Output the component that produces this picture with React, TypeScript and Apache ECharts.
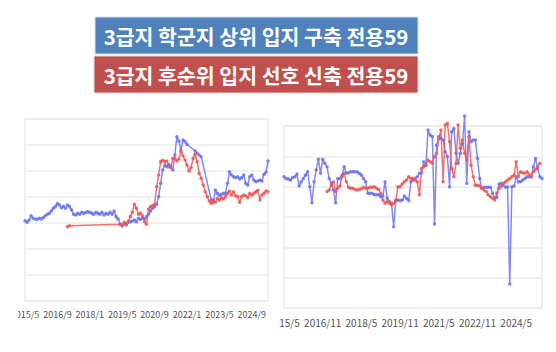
import React, { useEffect, useRef } from "react";
import * as echarts from "echarts";

// Monthly categories 2015/5 .. 2025/5
const months: string[] = [];
for (let y = 2015, m = 5; y < 2025 || (y === 2025 && m <= 5); ) {
  months.push(`${y}/${m}`);
  m++;
  if (m > 12) { m = 1; y++; }
}

const titleTop = "3급지 학군지 상위 입지 구축 전용59";
const titleBottom = "3급지 후순위 입지 선호 신축 전용59";

// Left chart (억)
const leftBlue = [
  6.18, 6.05, 6.23, 6.56, 6.36, 6.31, 6.28, 6.36, 6.31, 6.41,
  6.56, 6.67, 6.74, 6.92, 7.13, 7.26, 7.49, 7.38, 7.18, 7.28,
  7.13, 7.38, 7.26, 7.0, 6.67, 6.62, 6.74, 6.67, 6.82, 6.74,
  6.82, 6.87, 6.82, 6.74, 6.67, 6.82, 6.74, 6.67, 6.82, 6.62,
  6.74, 6.67, 6.82, 6.67, 6.92, 6.49, 6.31, 5.9, 5.77, 5.97,
  5.85, 6.05, 6.1, 6.15, 6.23, 6.1, 6.36, 6.28, 6.41, 6.31,
  6.49, 6.67, 6.92, 7.13, 7.26, 7.44, 8.03, 9.05, 10.08, 10.46,
  10.33, 10.51, 10.33, 10.08, 11.23, 12.64, 12.31, 11.62, 12.38, 12.26,
  12.05, null, null, null, 11.54, 11.36, 11.23, 11.1, null, null,
  null, null, 7.77, 7.59, 8.54, 8.28, 8.13, 8.21, 8.28, 8.28,
  9.05, 9.95, 9.69, 9.56, 9.49, 9.56, 9.38, 9.49, 9.69, 9.05,
  8.92, 9.56, 9.69, 9.31, 9.18, 9.23, 9.31, 9.23, 9.74, 9.9,
  10.77,
];
const leftRed = [
  null, null, null, null, null, null, null, null, null, null,
  null, null, null, null, null, null, null, null, null, null,
  null, 5.72, 5.79, null, null, null, null, null, null, null,
  null, null, null, null, null, null, null, null, null, null,
  null, null, null, null, null, null, null, 5.9, 5.85, 6.05,
  5.9, 6.15, 6.49, 6.82, 7.44, 7.13, 6.67, 6.74, 6.56, 6.1,
  5.9, 7.08, 7.26, 7.33, 7.44, 8.79, 9.69, 10.72, 10.82, 10.72,
  10.77, 10.33, 10.26, 10.97, 10.97, 10.77, 10.92, 11.49, 11.18, 10.85,
  10.46, 10.0, 10.26, 10.97, 11.28, 10.72, 9.82, 9.44, 8.92, 8.41,
  8.03, 7.69, 7.51, 7.77, 7.59, 7.9, 7.77, 7.95, 7.85, 8.03,
  8.28, 8.46, 8.15, 8.41, 8.1, 8.03, 7.59, 8.03, 8.15, 8.1,
  7.95, 8.28, 8.15, 8.28, 8.41, 8.51, 7.77, 8.15, 8.28, 8.46,
  8.41,
];

// Right chart
const rightBlue = [
  63.3, 62.7, 62.5, 62.2, 63.0, 63.3, 64.2, 60.2, 61.6, 62.7,
  63.8, 64.9, 60.0, 54.7, 61.6, 65.5, 69.0, 64.4, 69.0, 67.7,
  66.6, 62.7, 61.1, 58.9, 54.7, 62.7, 62.7, 63.8, 66.6, 64.4,
  64.6, 64.9, 64.9, 64.9, 64.9, 64.4, 63.8, 62.7, 61.6, 57.8,
  57.8, 57.8, 57.3, 57.3, 57.3, 56.7, 56.9, 61.6, 56.2, 55.1,
  54.5, 46.8, 55.4, 55.6, 55.4, 55.6, 56.9, 56.2, 55.4, 61.6,
  62.2, 62.7, 63.3, 64.4, 64.6, 68.2, 67.1, 78.7, 77.0, 76.5,
  47.7, 73.7, 76.5, 75.9, 75.4, 71.5, 69.9, 60.0, 78.1, 79.2,
  71.0, 67.7, 71.0, 74.3, 83.3, 61.1, 78.1, 74.8, 75.4, 75.4,
  69.3, 62.7, 59.5, 59.8, 59.8, 59.8, 59.8, 57.8, 56.2, 56.5,
  60.9, 61.1, 60.5, 59.8, 60.0, 27.9, 60.0, 60.2, 63.3, 61.6,
  61.6, 62.2, 62.7, 63.3, 63.3, 63.3, 66.6, 69.3, 66.0, 63.3,
  62.7,
];
const rightRed = [
  null, null, null, null, null, null, null, null, null, null,
  null, null, null, null, null, null, null, null, null, null,
  58.4, 58.9, 60.5, 61.6, 58.4, 59.5, 60.2, 63.3, 64.4, 61.6,
  59.8, 59.5, 59.5, 59.1, 58.9, 59.1, 59.3, 59.8, 59.5, 59.5,
  59.8, 59.8, 60.0, 59.5, 59.1, 57.8, 55.6, 54.5, 55.1, 54.5,
  54.0, 54.5, 55.6, 60.0, 60.0, 60.9, 61.6, 62.2, 63.3, 62.7,
  62.7, 62.2, 61.6, 57.3, 66.0, 66.6, 67.1, 68.8, 68.2, 67.7,
  69.9, 71.0, 75.9, 78.7, 61.6, 80.3, 80.9, 74.8, 66.0, 63.3,
  67.7, 80.3, 72.6, 75.4, 71.0, 68.8, 76.5, 67.1, 63.3, 60.5,
  60.5, 60.2, 59.5, 58.9, 58.4, 57.3, 56.7, 56.2, 55.6, 57.8,
  59.5, 60.2, 61.1, 61.6, 62.2, 62.7, 63.3, 63.8, 68.2, 63.3,
  64.9, 64.6, 64.4, 64.9, 64.1, 63.3, 64.9, 65.7, 66.6, 67.7,
  null,
];

const BLUE = "#6b76ef";
const RED = "#f05858";
const GRID_C = "#ececec";
const FONT = '"Noto Sans CJK KR", "Noto Sans", sans-serif';

function lineSeries(data: (number | null)[], color: string, idx: number) {
  return {
    type: "line",
    xAxisIndex: idx,
    yAxisIndex: idx,
    data,
    connectNulls: true,
    clip: false,
    symbol: "circle",
    symbolSize: 3.5,
    showSymbol: true,
    showAllSymbol: true,
    itemStyle: { color, opacity: 0.85 },
    lineStyle: { color, width: 1.5, opacity: 0.85 },
  };
}

export default function App() {
  const ref = useRef<HTMLDivElement>(null);
  useEffect(() => {
    if (!ref.current) return;
    const chart = echarts.init(ref.current, undefined, { renderer: "svg" });
    const xCommon = (interval: number, fontSize: number) => ({
      type: "category",
      data: months,
      boundaryGap: false,
      axisLine: { show: false },
      axisTick: { show: false },
      splitLine: { show: false },
      axisLabel: {
        interval,
        fontSize,
        color: "#555",
        fontFamily: FONT,
        margin: 9,
      },
    });
    chart.setOption({
      animation: false,
      backgroundColor: "#ffffff",
      grid: [
        { left: 25, top: 119, width: 243, height: 182, show: true, borderColor: GRID_C, borderWidth: 1.5 },
        { left: 284, top: 126, width: 258, height: 182, show: true, borderColor: GRID_C, borderWidth: 1.5 },
      ],
      xAxis: [
        { gridIndex: 0, ...xCommon(15, 9) },
        { gridIndex: 1, ...xCommon(17, 10) },
      ],
      yAxis: [
        {
          gridIndex: 0, type: "value", min: 0, max: 14, interval: 2,
          axisLabel: { show: false }, axisLine: { show: false }, axisTick: { show: false },
          splitLine: { lineStyle: { color: GRID_C, width: 1.5 } },
        },
        {
          gridIndex: 1, type: "value", min: 20, max: 80, interval: 10,
          axisLabel: { show: false }, axisLine: { show: false }, axisTick: { show: false },
          splitLine: { lineStyle: { color: GRID_C, width: 1.5 } },
        },
      ],
      series: [
        lineSeries(leftBlue, BLUE, 0),
        lineSeries(leftRed, RED, 0),
        lineSeries(rightBlue, BLUE, 1),
        lineSeries(rightRed, RED, 1),
      ],
      graphic: [
        { type: "rect", z: 100, shape: { x: 0, y: 305, width: 18, height: 22 }, style: { fill: "#fff" } },
        { type: "rect", z: 100, shape: { x: 267.5, y: 316, width: 11.5, height: 18 }, style: { fill: "#fff" } },
        { type: "rect", z: 100, shape: { x: 95, y: 17, width: 323, height: 37 }, style: { fill: "#4f81bd", stroke: "#d6e0ee", lineWidth: 1 } },
        {
          type: "text", z: 101, x: 256, y: 36,
          style: { text: titleTop, fill: "#fff", font: `bold 20.5px ${FONT}`, align: "center", verticalAlign: "middle" },
        },
        { type: "rect", z: 100, shape: { x: 94, y: 56, width: 324, height: 37 }, style: { fill: "#c0504d", stroke: "#eed6d5", lineWidth: 1 } },
        {
          type: "text", z: 101, x: 256, y: 75,
          style: { text: titleBottom, fill: "#fff", font: `bold 20.5px ${FONT}`, align: "center", verticalAlign: "middle" },
        },
      ],
    });
    return () => chart.dispose();
  }, []);
  return (
    <div
      ref={ref}
      style={{ position: "absolute", left: 0, top: 0, width: 556, height: 352 }}
    />
  );
}
